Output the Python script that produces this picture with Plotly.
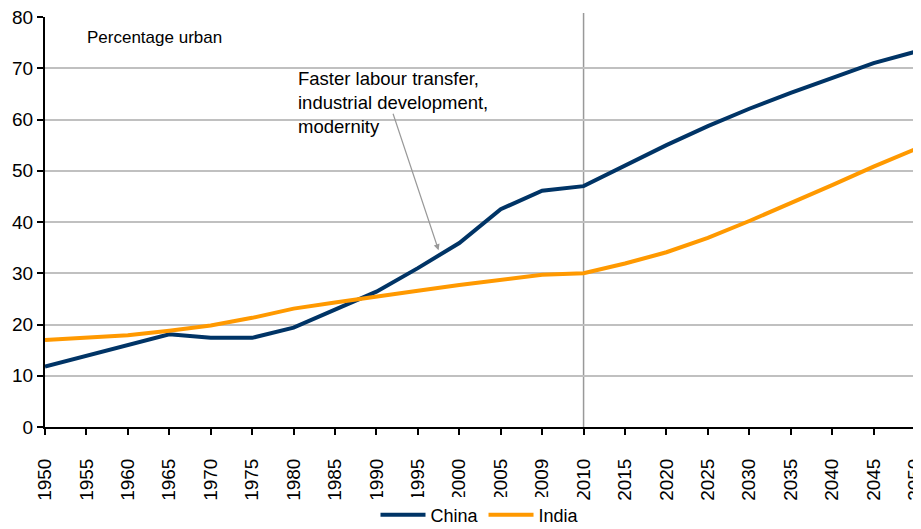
import plotly.graph_objects as go

years = ["1950", "1955", "1960", "1965", "1970", "1975", "1980", "1985", "1990", "1995",
         "2000", "2005", "2009", "2010", "2015", "2020", "2025", "2030", "2035", "2040",
         "2045", "2050"]
china = [11.8, 13.9, 16.2, 18.1, 17.4, 17.4, 19.4, 22.9, 26.4, 31.0,
         35.9, 42.5, 46.1, 47.0, 51.0, 55.0, 58.7, 62.1, 65.2, 68.2,
         71.0, 73.2]
india = [17.0, 17.5, 17.9, 18.8, 19.8, 21.3, 23.1, 24.3, 25.5, 26.6,
         27.7, 28.7, 29.7, 30.0, 31.9, 34.1, 36.9, 40.2, 43.6, 47.2,
         50.8, 54.2]
y_ticks = [0, 10, 20, 30, 40, 50, 60, 70, 80]

FONT = "Liberation Sans, Arial, sans-serif"

fig = go.Figure()
fig.add_trace(go.Scatter(x=years, y=china, mode="lines", name="China",
                         line=dict(color="#003466", width=4)))
fig.add_trace(go.Scatter(x=years, y=india, mode="lines", name="India",
                         line=dict(color="#FF9900", width=4)))

fig.add_shape(type="line", xref="x", yref="paper", x0=years.index("2010"), x1=years.index("2010"),
              y0=0, y1=1.01, line=dict(color="#999999", width=1.5), layer="below")

fig.add_annotation(xref="paper", yref="paper", x=0.046, y=0.95, xanchor="left", yanchor="middle",
                   text="Percentage urban", showarrow=False,
                   font=dict(family=FONT, size=17, color="#000000"))
fig.add_annotation(xref="paper", yref="paper", x=0.288, y=0.88, xanchor="left", yanchor="top",
                   align="left",
                   text="Faster labour transfer,<br>industrial development,<br>modernity",
                   showarrow=False,
                   font=dict(family=FONT, size=18.5, color="#000000"))
fig.add_annotation(x=9.5, y=34.5, xref="x", yref="y", ax=-46, ay=-138, text="",
                   showarrow=True, arrowhead=2, arrowsize=1, arrowwidth=1.2,
                   arrowcolor="#999999")

fig.update_layout(
    width=913, height=521,
    margin=dict(l=37, r=6, t=9, b=102, autoexpand=False),
    paper_bgcolor="white", plot_bgcolor="white",
    font=dict(family=FONT, size=19, color="#000000"),
    showlegend=True,
    legend=dict(orientation="h", x=0.5, xanchor="center", y=-0.215, yanchor="middle",
                font=dict(family=FONT, size=18), itemwidth=45),
    xaxis=dict(type="category", range=[0, len(years) - 1], tickangle=-90,
               showgrid=False, showline=True, linecolor="#000000", linewidth=2,
               ticks="outside", ticklen=6, tickcolor="#000000", tickwidth=2,
               ticklabelstandoff=16, ticklabeloverflow="allow",
               zeroline=False, automargin=False, tickfont=dict(family=FONT, size=19)),
    yaxis=dict(range=[0, 80], tickvals=y_ticks, showgrid=True, gridcolor="#C0C0C0",
               gridwidth=2, showline=True, linecolor="#000000", linewidth=2,
               ticks="outside", ticklen=6, tickcolor="#000000", tickwidth=2,
               ticklabeloverflow="allow",
               zeroline=False, automargin=False, tickfont=dict(family=FONT, size=19)),
)

fig.write_html("out.html")
